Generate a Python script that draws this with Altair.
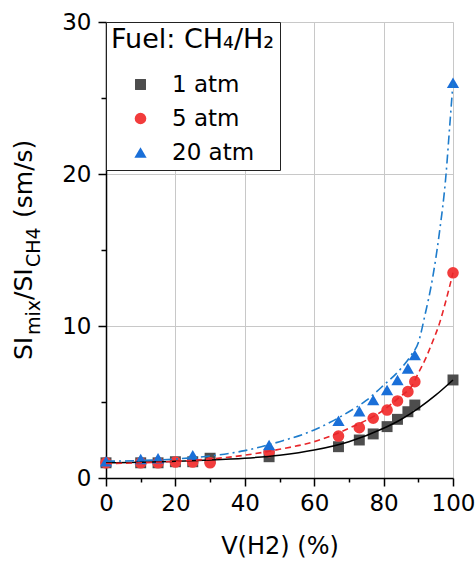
import altair as alt
import pandas as pd

FONT = "DejaVu Sans"

# ---------------- data ----------------
series_names = ["1 atm", "5 atm", "20 atm"]

x_1atm = [0, 10, 15, 20, 25, 30, 47, 67, 73, 77, 81, 84, 87, 89, 100]
y_1atm = [1.0, 1.0, 1.0, 1.07, 1.07, 1.3, 1.4, 2.06, 2.5, 2.9, 3.38, 3.86, 4.36, 4.8, 6.45]

x_5atm = [0, 10, 15, 20, 25, 30, 47, 67, 73, 77, 81, 84, 87, 89, 100]
y_5atm = [1.0, 1.0, 1.0, 1.05, 1.05, 1.0, 1.73, 2.76, 3.31, 3.93, 4.47, 5.07, 5.68, 6.34, 13.5]

x_20atm = [0, 10, 15, 25, 47, 67, 73, 77, 81, 84, 87, 89, 100]
y_20atm = [1.1, 1.25, 1.3, 1.5, 2.17, 3.77, 4.4, 5.13, 5.79, 6.45, 7.21, 8.09, 26.0]

# fitted curves
fit_x_1atm = [0, 10, 20, 30, 40, 50, 60, 70, 80, 85, 90, 95, 100]
fit_y_1atm = [1.0, 1.03, 1.1, 1.18, 1.3, 1.5, 1.84, 2.39, 3.27, 3.85, 4.58, 5.45, 6.45]

fit_x_5atm = [0, 10, 20, 30, 40, 50, 60, 70, 80, 85, 88, 90, 92, 94, 96, 98, 100]
fit_y_5atm = [0.95, 1.0, 1.1, 1.25, 1.5, 1.89, 2.39, 3.27, 4.47, 5.4, 6.0, 6.9, 7.8, 8.9, 10.1, 11.7, 13.5]

fit_x_20atm = [0, 10, 20, 30, 40, 50, 60, 70, 75, 80, 85, 88, 90, 92, 94, 96, 98, 99, 100]
fit_y_20atm = [1.1, 1.15, 1.25, 1.45, 1.8, 2.39, 3.16, 4.36, 5.1, 6.1, 7.2, 8.1, 8.9, 10.8, 13.0, 16.0, 20.0, 23.0, 26.0]

x_ticks = [0, 10, 20, 30, 40, 50, 60, 70, 80, 90, 100]
y_ticks = [0, 5, 10, 15, 20, 25, 30]

point_colors = ["#4d4d4d", "#f23c3c", "#1a6fd8"]
point_shapes = ["square", "circle", "triangle-up"]
point_sizes = [120, 150, 230]

# ---------------- tables ----------------
rows = []
for name, xs, ys in zip(series_names, [x_1atm, x_5atm, x_20atm], [y_1atm, y_5atm, y_20atm]):
    for xv, yv in zip(xs, ys):
        rows.append({"x": xv, "y": yv, "series": name})
points = pd.DataFrame(rows)

fit_1 = pd.DataFrame({"x": fit_x_1atm, "y": fit_y_1atm})
fit_5 = pd.DataFrame({"x": fit_x_5atm, "y": fit_y_5atm})
fit_20 = pd.DataFrame({"x": fit_x_20atm, "y": fit_y_20atm})

# ---------------- encodings ----------------
x_enc = alt.X(
    "x:Q",
    scale=alt.Scale(domain=[0, 100], nice=False),
    axis=alt.Axis(
        values=x_ticks,
        labelExpr="datum.value % 20 === 0 ? datum.label : ''",
        tickSize={"condition": {"test": "datum.value % 20 === 0", "value": 8}, "value": 4},
        gridOpacity={"condition": {"test": "datum.value % 20 === 0", "value": 1}, "value": 0},
        grid=True,
        gridColor="#c8c8c8",
        gridWidth=1,
        tickColor="black",
        tickWidth=1.5,
        domainColor="black",
        domainWidth=1.5,
        labelFont=FONT,
        labelFontSize=23,
        labelColor="black",
        labelPadding=6,
        labelFlush=False,
        labelOverlap=False,
        title="V(H2) (%)",
        titleFont=FONT,
        titleFontSize=24,
        titleFontWeight="normal",
        titleColor="black",
        titlePadding=19,
    ),
)
y_enc = alt.Y(
    "y:Q",
    scale=alt.Scale(domain=[0, 30], nice=False),
    axis=alt.Axis(
        values=y_ticks,
        labelExpr="datum.value % 10 === 0 ? datum.label : ''",
        tickSize={"condition": {"test": "datum.value % 10 === 0", "value": 8}, "value": 5},
        gridOpacity={"condition": {"test": "datum.value % 10 === 0", "value": 1}, "value": 0},
        grid=True,
        gridColor="#c8c8c8",
        gridWidth=1,
        tickColor="black",
        tickWidth=1.5,
        domainColor="black",
        domainWidth=1.5,
        labelFont=FONT,
        labelFontSize=23,
        labelColor="black",
        labelPadding=7,
        labelOverlap=False,
        title="",
    ),
)

legend = alt.Legend(
    title="Fuel: CH₄/H₂",
    orient="top-left",
    offset=0,
    padding=5,
    fillColor="white",
    strokeColor="#222222",
    titleFont=FONT,
    titleFontSize=27,
    titleFontWeight="normal",
    titleColor="black",
    titlePadding=19,
    labelFont=FONT,
    labelFontSize=23,
    labelColor="black",
    labelOffset=20,
    symbolOffset=18,
    symbolStrokeWidth=0,
    rowPadding=10,
)

pts = alt.Chart(points).mark_point(filled=True, opacity=1).encode(
    x=x_enc,
    y=y_enc,
    color=alt.Color("series:N", scale=alt.Scale(domain=series_names, range=point_colors), legend=legend),
    shape=alt.Shape("series:N", scale=alt.Scale(domain=series_names, range=point_shapes), legend=legend),
    size=alt.Size("series:N", scale=alt.Scale(domain=series_names, range=point_sizes), legend=legend),
)

line1 = alt.Chart(fit_1).mark_line(color="black", strokeWidth=1.5, interpolate="monotone").encode(x=x_enc, y=y_enc)
line5 = alt.Chart(fit_5).mark_line(color="#e8262a", strokeWidth=1.6, strokeDash=[6, 4], interpolate="monotone").encode(x=x_enc, y=y_enc)
line20 = alt.Chart(fit_20).mark_line(color="#1e7ccc", strokeWidth=1.6, strokeDash=[9, 4, 2, 4], interpolate="monotone").encode(x=x_enc, y=y_enc)

# y-axis title with subscripts, built from text pieces
one = pd.DataFrame({"k": [0]})
title_pieces = [
    ("SI", 25, -74, 338),
    ("mix", 19, -66, 313),
    ("/SI", 25, -74, 278),
    ("CH4", 19, -66, 245),
    ("(sm/s)", 25, -74, 196),
]
title_layers = []
for txt, fs, px, py in title_pieces:
    title_layers.append(
        alt.Chart(one).mark_text(
            text=txt, angle=270, align="left", baseline="alphabetic",
            font=FONT, fontSize=fs, color="black",
        ).encode(x=alt.value(px), y=alt.value(py))
    )

chart = alt.layer(pts, line1, line5, line20, *title_layers).properties(
    width=347,
    height=456,
    padding={"left": 106, "top": 22, "right": 22, "bottom": 89},
    autosize="none",
).configure_view(stroke="black", strokeWidth=1.5).configure(background="white")

chart.save("out.html", embed_options={"renderer": "svg", "actions": False})
